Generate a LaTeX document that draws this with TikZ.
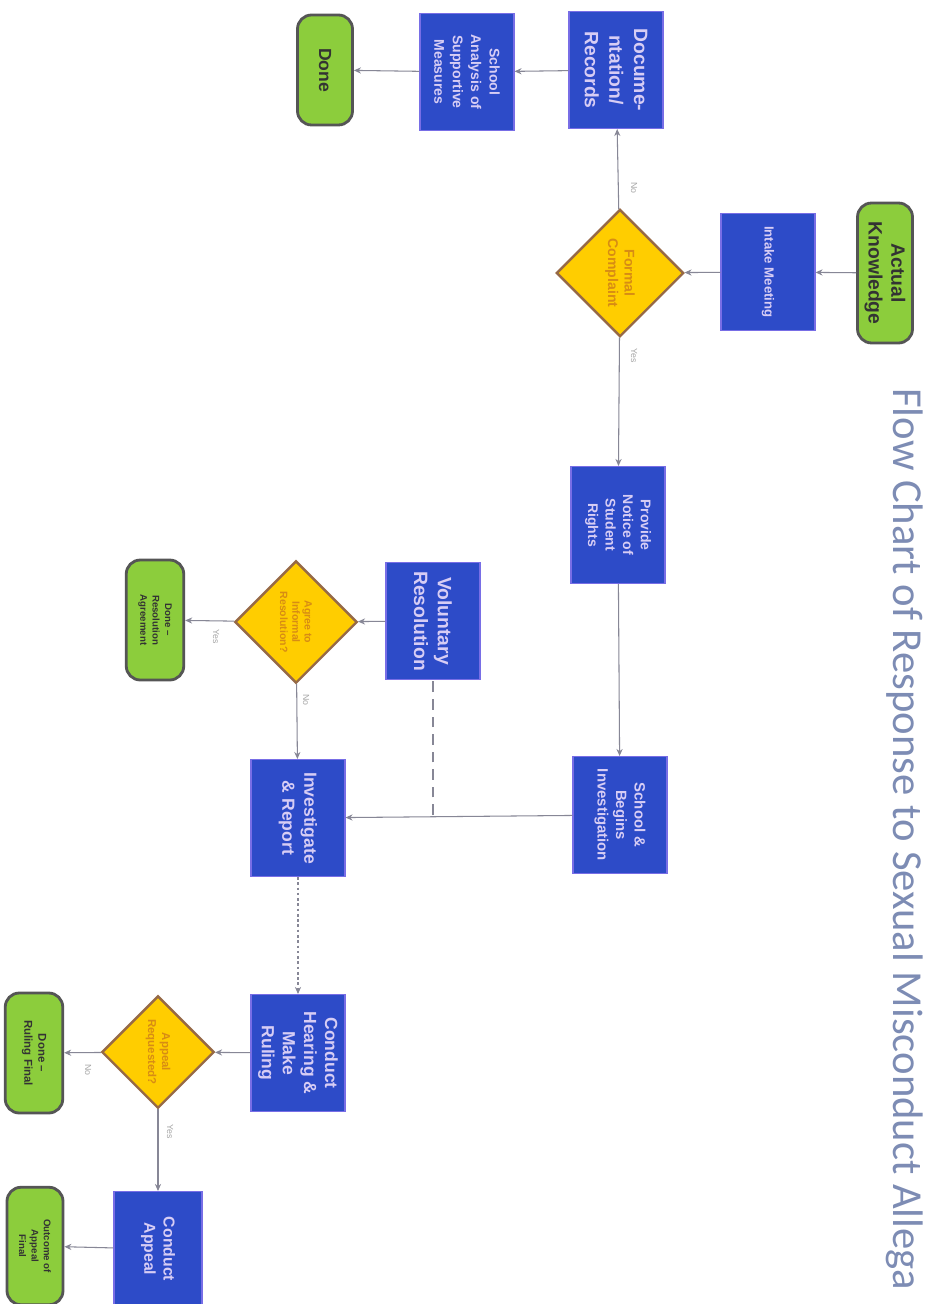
\documentclass[tikz,border=0pt]{standalone}
\usepackage{fontspec}
\setmainfont{Liberation Sans}
\newfontfamily\titlefont{Carlito}
\usetikzlibrary{shapes.geometric,arrows.meta}
\definecolor{boxblue}{RGB}{45,75,200}
\definecolor{boxedge}{RGB}{120,110,230}
\definecolor{boxtext}{RGB}{215,205,245}
\definecolor{termgreen}{RGB}{140,205,60}
\definecolor{termedge}{RGB}{85,85,85}
\definecolor{decyellow}{RGB}{255,205,0}
\definecolor{decedge}{RGB}{150,105,70}
\definecolor{dectext}{RGB}{215,140,20}
\definecolor{linegray}{RGB}{135,135,150}
\definecolor{titleblue}{RGB}{125,140,180}
\begin{document}
\begin{tikzpicture}[x=0.02cm,y=-0.02cm,
  bluebox/.style={draw=boxedge, line width=0.6pt, fill=boxblue, text=boxtext, rotate=-90,
    align=center, minimum width=2.34cm, minimum height=1.88cm, inner sep=1pt},
  term/.style={draw=termedge, line width=1.6pt, fill=termgreen, text=black!80, rotate=-90,
    align=center, rounded corners=0.28cm, minimum height=1.1cm, inner sep=1pt},
  decision/.style={diamond, aspect=1, draw=decedge, line width=1.4pt, fill=decyellow, text=dectext,
    rotate=-90, align=center, minimum width=2.55cm, minimum height=2.55cm, inner sep=0pt},
  conn/.style={draw=linegray, line width=0.6pt, -{Stealth[length=4pt,width=3.5pt]}},
  plain/.style={draw=linegray, line width=0.6pt},
  lbl/.style={font=\fontsize{5}{6}\selectfont, text=gray!70, rotate=-90, inner sep=0pt}
]
\useasboundingbox (0,0) rectangle (943,1304);
\clip (0,0) rectangle (943,1304);
\fill[white] (0,0) rectangle (943,1304);

% title
\node[rotate=-90, anchor=west, text=titleblue, font=\titlefont\fontsize{24.3}{27}\selectfont, inner sep=0pt]
  (title) at (905,388) {Flow Chart of Response to Sexual Misconduct Allega};

% terminals
\node[term, minimum width=2.8cm, font=\bfseries\fontsize{11}{13}\selectfont] (ak) at (885,273) {Actual\\Knowledge};
\node[term, minimum width=2.2cm, font=\bfseries\fontsize{10}{12}\selectfont] (done1) at (325,70) {Done};
\node[term, minimum width=2.4cm, minimum height=1.15cm, font=\bfseries\fontsize{5.5}{7}\selectfont] (done2) at (155,620) {Done --\\Resolution\\Agreement};
\node[term, minimum width=2.4cm, minimum height=1.15cm, font=\bfseries\fontsize{6.5}{8}\selectfont] (done3) at (34,1053) {Done --\\Ruling Final};
\node[term, minimum width=2.35cm, minimum height=1.12cm, font=\bfseries\fontsize{5.5}{7}\selectfont] (done4) at (35,1246) {Outcome of\\Appeal\\Final};

% process boxes
\node[bluebox, font=\bfseries\fontsize{7.5}{9}\selectfont] (intake) at (768,272) {Intake Meeting};
\node[bluebox, font=\bfseries\fontsize{11}{14}\selectfont] (docs) at (616,70) {Docume-\\ntation/\\Records};
\node[bluebox, font=\bfseries\fontsize{8}{10.5}\selectfont] (anal) at (467,72) {School\\Analysis of\\Supportive\\Measures};
\node[bluebox, font=\bfseries\fontsize{8}{10}\selectfont] (notice) at (618,525) {Provide\\Notice of\\Student\\Rights};
\node[bluebox, font=\bfseries\fontsize{8.5}{10.5}\selectfont] (begin) at (620,815) {School \&\\Begins\\Investigation};
\node[bluebox, font=\bfseries\fontsize{11}{13.5}\selectfont] (vol) at (433,621) {Voluntary\\Resolution};
\node[bluebox, font=\bfseries\fontsize{10}{12.5}\selectfont] (inv) at (298,818) {Investigate\\\& Report};
\node[bluebox, font=\bfseries\fontsize{10}{12}\selectfont] (hear) at (298,1053) {Conduct\\Hearing \&\\Make\\Ruling};
\node[bluebox, minimum width=2.3cm, minimum height=1.76cm, font=\bfseries\fontsize{9}{11}\selectfont] (appeal) at (158,1249) {Conduct\\Appeal};

% decisions
\node[decision, font=\bfseries\fontsize{8}{9.5}\selectfont] (fc) at (620,273) {Formal\\Complaint};
\node[decision, minimum width=2.45cm, minimum height=2.45cm, font=\bfseries\fontsize{6}{7}\selectfont] (agree) at (296,622) {Agree to\\Informal\\Resolution?};
\node[decision, minimum width=2.25cm, minimum height=2.25cm, font=\bfseries\fontsize{6.5}{8}\selectfont] (req) at (158,1052) {Appeal\\Requested?};

% connectors
\draw[conn] (ak) -- (intake);
\draw[conn] (intake) -- (fc);
\draw[conn] (fc) -- (docs);
\draw[conn] (docs) -- (anal);
\draw[conn] (anal) -- (done1);
\draw[conn] (fc) -- (notice);
\draw[conn] (notice) -- (begin);
\coordinate (j) at (vol |- begin);
\draw[conn] (begin) -- (inv);
\draw[plain, dash pattern=on 6pt off 4pt] (j) -- (vol);
\draw[conn] (vol) -- (agree);
\draw[conn] (agree) -- (done2);
\draw[conn] (agree) -- (inv);
\draw[conn, dash pattern=on 1.5pt off 1.5pt] (inv) -- (hear);
\draw[conn] (hear) -- (req);
\draw[conn] (req) -- (done3);
\draw[conn] (req) -- (appeal);
\draw[conn] (appeal) -- (done4);

% labels
\node[lbl] (l1) at (634,188) {No};
\node[lbl] (l2) at (634,356) {Yes};
\node[lbl] (l3) at (216,637) {Yes};
\node[lbl] (l4) at (306,700) {No};
\node[lbl] (l5) at (88,1070) {No};
\node[lbl] (l6) at (170,1132) {Yes};
\end{tikzpicture}
\end{document}
